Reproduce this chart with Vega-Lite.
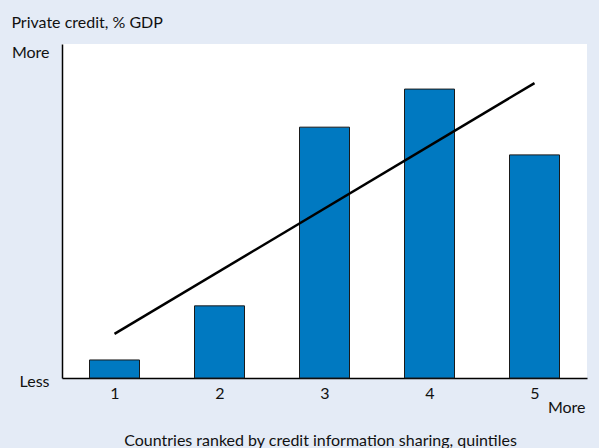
{
  "$schema": "https://vega.github.io/schema/vega-lite/v6.json",
  "autosize": "none",
  "width": 525,
  "height": 334,
  "padding": {"left": 62, "top": 44, "right": 12, "bottom": 70},
  "background": "#e4ebf6",
  "title": {
    "text": "Private credit, % GDP",
    "anchor": "start",
    "frame": "bounds",
    "dx": 0,
    "offset": 0,
    "baseline": "alphabetic",
    "font": "Lato",
    "fontSize": 16,
    "fontWeight": "normal",
    "color": "#111111"
  },
  "config": {
    "view": {"fill": "white", "stroke": null},
    "font": "Lato",
    "axis": {"labelFont": "Lato", "titleFont": "Lato", "labelColor": "#111111", "titleColor": "#111111", "labelFontSize": 16, "titleFontSize": 16, "titleFontWeight": "normal"}
  },
  "layer": [
    {
      "data": {"values": [
        {"quintile": 1, "credit": 5.4},
        {"quintile": 2, "credit": 21.6},
        {"quintile": 3, "credit": 75.1},
        {"quintile": 4, "credit": 86.5},
        {"quintile": 5, "credit": 66.8}
      ]},
      "mark": {"type": "bar", "size": 50, "color": "#0079c1", "stroke": "#1a1a1a", "strokeWidth": 1},
      "encoding": {
        "x": {
          "field": "quintile", "type": "quantitative",
          "scale": {"domain": [0.5, 5.5], "nice": false, "zero": false, "padding": 0},
          "axis": {
            "values": [1, 2, 3, 4, 5, 5.5],
            "labelExpr": "datum.value == 5.5 ? 'More' : format(datum.value, 'd')",
            "labelAlign": {"condition": {"test": "datum.value == 5.5", "value": "right"}, "value": "center"},
            "labelPadding": {"condition": {"test": "datum.value == 5.5", "value": 21}, "value": 7},
            "labelOffset": {"condition": {"test": "datum.value == 5.5", "value": -2}, "value": 0},
            "labelBaseline": "top",
            "labelFlush": false,
            "labelOverlap": false,
            "ticks": false,
            "grid": false,
            "domainColor": "#000000",
            "domainWidth": 1.5,
            "title": "Countries ranked by credit information sharing, quintiles",
            "titleX": 258,
            "titleY": 67,
            "titleAnchor": "middle",
            "titleAlign": "center",
            "titleBaseline": "alphabetic"
          }
        },
        "y": {
          "field": "credit", "type": "quantitative",
          "scale": {"domain": [0, 100], "nice": false},
          "axis": {
            "values": [0, 100],
            "labelExpr": "datum.value == 0 ? 'Less' : 'More'",
            "labelAlign": "right",
            "labelBaseline": "middle",
            "labelPadding": 13,
            "labelOffset": {"condition": {"test": "datum.value == 0", "value": 3}, "value": 8},
            "labelFlush": false,
            "labelOverlap": false,
            "ticks": false,
            "grid": false,
            "domainColor": "#000000",
            "domainWidth": 1.5,
            "title": null
          }
        }
      }
    },
    {
      "data": {"values": [
        {"quintile": 1, "credit": 13.2},
        {"quintile": 5, "credit": 88.3}
      ]},
      "mark": {"type": "line", "color": "#000000", "strokeWidth": 2.5},
      "encoding": {
        "x": {"field": "quintile", "type": "quantitative"},
        "y": {"field": "credit", "type": "quantitative"}
      }
    }
  ]
}
